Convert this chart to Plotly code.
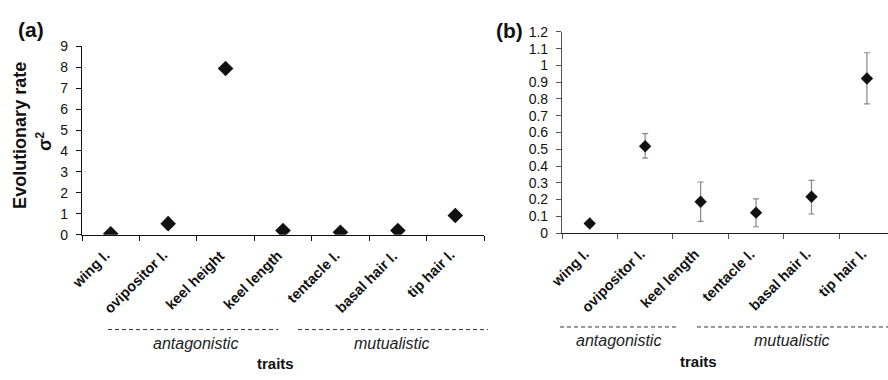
import plotly.graph_objects as go

traits_a = ["wing l.", "ovipositor l.", "keel height", "keel length",
            "tentacle l.", "basal hair l.", "tip hair l."]
rate_a = [0.05, 0.53, 7.94, 0.20, 0.12, 0.20, 0.92]

traits_b = ["wing l.", "ovipositor l.", "keel length",
            "tentacle l.", "basal hair l.", "tip hair l."]
rate_b = [0.057, 0.518, 0.187, 0.122, 0.217, 0.922]
err_plus_b = [0.008, 0.076, 0.118, 0.082, 0.097, 0.154]
err_minus_b = [0.008, 0.071, 0.117, 0.084, 0.103, 0.151]

yticks_a = list(range(0, 10))
yticks_b = [0, 0.1, 0.2, 0.3, 0.4, 0.5, 0.6, 0.7, 0.8, 0.9, 1, 1.1, 1.2]
yticklabels_b = ["0", "0.1", "0.2", "0.3", "0.4", "0.5", "0.6", "0.7", "0.8",
                 "0.9", "1", "1.1", "1.2"]

W, H = 888, 380
FONT = "Liberation Sans, Arial, sans-serif"


def px(x):
    return x / W


def py(y):
    return 1 - y / H


fig = go.Figure()
fig.add_trace(go.Scatter(
    x=traits_a, y=rate_a, mode="markers", xaxis="x", yaxis="y",
    marker=dict(symbol="diamond", size=12, color="#111111"),
    showlegend=False))
fig.add_trace(go.Scatter(
    x=traits_b, y=rate_b, mode="markers", xaxis="x2", yaxis="y2",
    marker=dict(symbol="diamond", size=9.5, color="#111111"),
    error_y=dict(type="data", symmetric=False, array=err_plus_b,
                 arrayminus=err_minus_b, color="#888888", thickness=1.2,
                 width=3),
    showlegend=False))

tickfont = dict(family=FONT, size=14, color="#111111")
xtickfont = dict(family=FONT, size=14.5, color="#111111")

fig.update_layout(
    width=W, height=H,
    margin=dict(l=0, r=0, t=0, b=0),
    paper_bgcolor="white", plot_bgcolor="white",
    font=dict(family=FONT, color="#111111"),
    xaxis=dict(domain=[px(82), px(484)], range=[-0.5, 6.5], anchor="y",
               showline=True, linecolor="#111111", linewidth=1.2,
               ticks="outside", ticklen=5, tickcolor="#111111",
               tickmode="array", tickvals=[i + 0.5 for i in range(-1, 7)],
               showticklabels=False, showgrid=False, zeroline=False),
    yaxis=dict(domain=[py(236.7), py(40)], range=[0, 9], anchor="x",
               showline=True, linecolor="#111111", linewidth=1.2,
               ticks="outside", ticklen=5, tickcolor="#111111",
               tickvals=yticks_a, tickfont=tickfont, ticklabelstandoff=5,
               showgrid=False, zeroline=False),
    xaxis2=dict(domain=[px(562), 1.0], range=[-0.5, 5.38], anchor="y2",
                showline=True, linecolor="#222222", linewidth=1.2,
                ticks="outside", ticklen=5, tickcolor="#555555",
                tickmode="array", tickvals=[i + 0.5 for i in range(-1, 6)],
                showticklabels=False, showgrid=False, zeroline=False),
    yaxis2=dict(domain=[py(235), py(25)], range=[0, 1.2], anchor="x2",
                showline=True, linecolor="#555555", linewidth=1.2,
                ticks="outside", ticklen=5, tickcolor="#555555",
                tickvals=yticks_b, ticktext=yticklabels_b, tickfont=tickfont,
                ticklabelstandoff=5, showgrid=False, zeroline=False),
)

annotations = []
for t in traits_a:
    annotations.append(dict(x=t, y=0, xref="x", yref="y", text="<b>%s</b>" % t,
                            textangle=-45, showarrow=False, xanchor="right",
                            yanchor="top", font=xtickfont, yshift=-10, xshift=5))
for t in traits_b:
    annotations.append(dict(x=t, y=0, xref="x2", yref="y2", text="<b>%s</b>" % t,
                            textangle=-45, showarrow=False, xanchor="right",
                            yanchor="top", font=xtickfont, yshift=-10, xshift=5))


def ann(x, y, text, size, angle=0, color="#111111"):
    return dict(x=px(x), y=py(y), xref="paper", yref="paper", text=text,
                textangle=angle, showarrow=False, xanchor="center",
                yanchor="middle", font=dict(family=FONT, size=size, color=color))


annotations += [
    ann(31, 22, "<b>(a)</b>", 21),
    ann(509, 23, "<b>(b)</b>", 21),
    ann(20, 133.5, "<b>Evolutionary rate</b>", 18, -90),
    ann(44, 140, "<b>σ<sup>2</sup></b>", 18, -90),
    ann(195, 350, "<i>antagonistic</i>", 16, color="#222222"),
    ann(392, 350, "<i>mutualistic</i>", 16, color="#222222"),
    ann(275, 371, "<b>traits</b>", 15),
    ann(618, 347, "<i>antagonistic</i>", 16, color="#222222"),
    ann(792, 347, "<i>mutualistic</i>", 16, color="#222222"),
    ann(698, 369, "<b>traits</b>", 15),
]

shapes = []
for x0, x1, y in [(108, 278, 335.7), (298, 488, 335.7),
                  (560, 678, 333), (697, 888, 333)]:
    shapes.append(dict(type="line", xref="paper", yref="paper",
                       x0=px(x0), x1=px(x1), y0=py(y), y1=py(y),
                       line=dict(color="#333333", width=1, dash="4px,3px")))

fig.update_layout(annotations=annotations, shapes=shapes)
fig.write_html("out.html", config={"displayModeBar": False},
               post_script="document.body.style.margin='0px';document.body.style.padding='0px';")
